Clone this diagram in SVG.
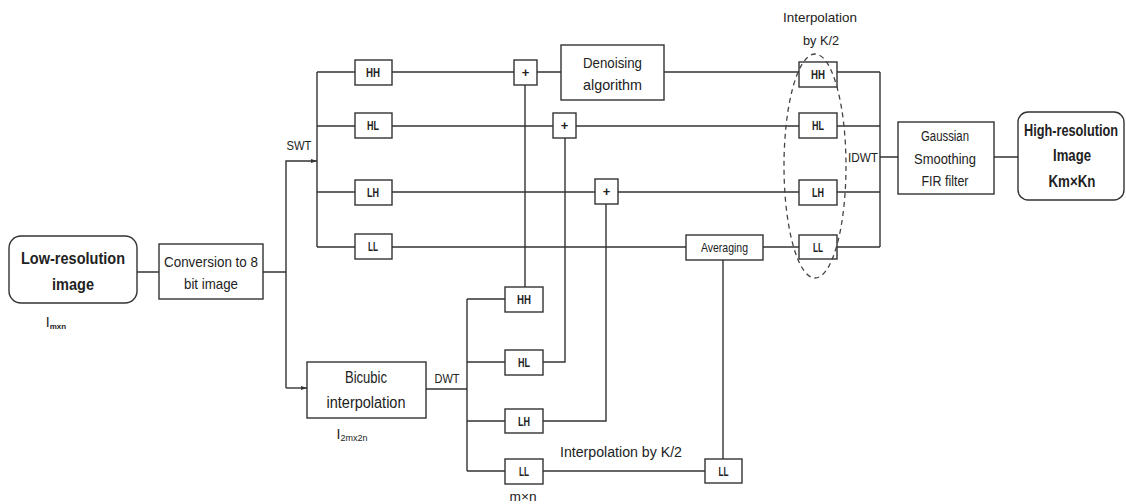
<svg xmlns="http://www.w3.org/2000/svg" width="1126" height="504" viewBox="0 0 1126 504">
<style>
.bx{fill:#fff;stroke:#333;stroke-width:1.4}
.ln{fill:none;stroke:#333;stroke-width:1.4}
text{font-family:"Liberation Sans",Arial,sans-serif;fill:#222;text-anchor:middle;dominant-baseline:central}
.s{font-size:13px;font-weight:bold}
.m{font-size:15px}
.b{font-size:17px;font-weight:bold}
.l{font-size:13px}
</style>
<defs>
<marker id="ah" markerWidth="6" markerHeight="6" refX="6" refY="3" orient="auto" markerUnits="userSpaceOnUse">
<path d="M0,1 L6,3 L0,5 z" fill="#333"/>
</marker>
</defs>
<g id="connectors">
<path class="ln" d="M137,272 H286"/>
<path class="ln" d="M286,388 V161 H317" marker-end="url(#ah)"/>
<path class="ln" d="M286,388 H307" marker-end="url(#ah)"/>
<path class="ln" d="M317,72 V247"/>
<path class="ln" d="M317,72 H355 M317,126 H355 M317,192 H355 M317,247 H355"/>
<path class="ln" d="M392,72 H514 M537,72 H561 M664,72 H799"/>
<path class="ln" d="M392,126 H553 M576,126 H799"/>
<path class="ln" d="M392,192 H595 M618,192 H799"/>
<path class="ln" d="M392,247 H686 M763,247 H799"/>
<path class="ln" d="M837,72 H880 M837,126 H880 M837,192 H880 M837,247 H880 M880,72 V247"/>
<path class="ln" d="M880,157 H898 M994,157 H1018"/>
<path class="ln" d="M426,389 H467 M467,299 V471 M467,299 H505 M467,362 H505 M467,421 H505 M467,471 H505"/>
<path class="ln" d="M525,287 V85"/>
<path class="ln" d="M543,362 H565 V138"/>
<path class="ln" d="M543,421 H606 V204"/>
<path class="ln" d="M543,471 H705"/>
<path class="ln" d="M723,459 V260"/>
</g>
<g id="low-res">
<rect class="bx" x="9" y="236" width="128" height="67" rx="12"/>
<text class="b" x="73" y="258" textLength="104" lengthAdjust="spacingAndGlyphs">Low-resolution</text>
<text class="b" x="73" y="284" textLength="42" lengthAdjust="spacingAndGlyphs">image</text>
<text x="56" y="322" font-size="14" text-anchor="start">I<tspan font-size="8" font-weight="bold" dy="4">mxn</tspan></text>
</g>
<g id="conversion">
<rect class="bx" x="159" y="244" width="104" height="55"/>
<text class="m" x="211" y="261" textLength="94" lengthAdjust="spacingAndGlyphs">Conversion to 8</text>
<text class="m" x="211" y="283" textLength="54" lengthAdjust="spacingAndGlyphs">bit image</text>
</g>
<g id="swt-label"><text class="l" x="299" y="145" textLength="25" lengthAdjust="spacingAndGlyphs">SWT</text></g>
<g id="s-hh"><rect class="bx" x="355" y="60" width="37" height="25"/><text class="s" x="373" y="72.5" textLength="14" lengthAdjust="spacingAndGlyphs">HH</text></g>
<g id="s-hl"><rect class="bx" x="355" y="113" width="37" height="25"/><text class="s" x="373" y="125.5" textLength="12" lengthAdjust="spacingAndGlyphs">HL</text></g>
<g id="s-lh"><rect class="bx" x="355" y="180" width="37" height="25"/><text class="s" x="373" y="192.5" textLength="12" lengthAdjust="spacingAndGlyphs">LH</text></g>
<g id="s-ll"><rect class="bx" x="355" y="234" width="37" height="25"/><text class="s" x="373" y="246.5" textLength="10" lengthAdjust="spacingAndGlyphs">LL</text></g>
<g id="plus1"><rect class="bx" x="514" y="60" width="23" height="25"/><text class="s" x="525.5" y="72" font-size="11">+</text></g>
<g id="plus2"><rect class="bx" x="553" y="113" width="23" height="25"/><text class="s" x="564.5" y="125" font-size="11">+</text></g>
<g id="plus3"><rect class="bx" x="595" y="179" width="23" height="25"/><text class="s" x="606.5" y="191" font-size="11">+</text></g>
<g id="denoising">
<rect class="bx" x="561" y="45" width="103" height="55"/>
<text class="m" x="612.5" y="62" textLength="59" lengthAdjust="spacingAndGlyphs">Denoising</text>
<text class="m" x="612.5" y="84" textLength="59" lengthAdjust="spacingAndGlyphs">algorithm</text>
</g>
<g id="averaging"><rect class="bx" x="686" y="235" width="77" height="25"/><text x="724.5" y="247.5" font-size="13" textLength="47" lengthAdjust="spacingAndGlyphs">Averaging</text></g>
<g id="interp-label">
<text x="820" y="17" font-size="13" textLength="74" lengthAdjust="spacingAndGlyphs">Interpolation</text>
<text x="821" y="40" font-size="13" textLength="36" lengthAdjust="spacingAndGlyphs">by K/2</text>
</g>
<g id="r-hh"><rect class="bx" x="799" y="62" width="38" height="25"/><text class="s" x="818" y="74.5" textLength="14" lengthAdjust="spacingAndGlyphs">HH</text></g>
<g id="r-hl"><rect class="bx" x="799" y="113" width="38" height="25"/><text class="s" x="818" y="125.5" textLength="12" lengthAdjust="spacingAndGlyphs">HL</text></g>
<g id="r-lh"><rect class="bx" x="799" y="180" width="38" height="25"/><text class="s" x="818" y="192.5" textLength="12" lengthAdjust="spacingAndGlyphs">LH</text></g>
<g id="r-ll"><rect class="bx" x="799" y="235" width="38" height="24"/><text class="s" x="818" y="247" textLength="10" lengthAdjust="spacingAndGlyphs">LL</text></g>
<g id="ellipse"><ellipse cx="815" cy="166" rx="31" ry="112" fill="none" stroke="#444" stroke-width="1.3" stroke-dasharray="5,4"/></g>
<g id="idwt-label"><text class="l" x="863" y="157" textLength="30" lengthAdjust="spacingAndGlyphs">IDWT</text></g>
<g id="gaussian">
<rect class="bx" x="898" y="122" width="96" height="72"/>
<text x="945" y="136" font-size="14" textLength="48" lengthAdjust="spacingAndGlyphs">Gaussian</text>
<text x="945" y="159" font-size="14" textLength="62" lengthAdjust="spacingAndGlyphs">Smoothing</text>
<text x="945" y="181" font-size="14" textLength="47" lengthAdjust="spacingAndGlyphs">FIR filter</text>
</g>
<g id="high-res">
<rect class="bx" x="1018" y="112" width="106" height="88" rx="10"/>
<text x="1071" y="130" font-size="16" font-weight="bold" textLength="94" lengthAdjust="spacingAndGlyphs">High-resolution</text>
<text x="1072" y="155" font-size="16" font-weight="bold" textLength="38" lengthAdjust="spacingAndGlyphs">Image</text>
<text x="1072" y="181" font-size="16" font-weight="bold" textLength="47" lengthAdjust="spacingAndGlyphs">Km×Kn</text>
</g>
<g id="bicubic">
<rect class="bx" x="307" y="362" width="119" height="56"/>
<text x="366" y="377" font-size="16" textLength="42" lengthAdjust="spacingAndGlyphs">Bicubic</text>
<text x="366" y="402" font-size="16" textLength="79" lengthAdjust="spacingAndGlyphs">interpolation</text>
<text x="352" y="434" font-size="14" text-anchor="start">I<tspan font-size="9" dy="4">2mx2n</tspan></text>
</g>
<g id="dwt-label"><text class="l" x="447" y="378" textLength="25" lengthAdjust="spacingAndGlyphs">DWT</text></g>
<g id="d-hh"><rect class="bx" x="505" y="287" width="38" height="25"/><text class="s" x="524" y="299.5" textLength="14" lengthAdjust="spacingAndGlyphs">HH</text></g>
<g id="d-hl"><rect class="bx" x="505" y="350" width="38" height="25"/><text class="s" x="524" y="362.5" textLength="12" lengthAdjust="spacingAndGlyphs">HL</text></g>
<g id="d-lh"><rect class="bx" x="505" y="409" width="38" height="24"/><text class="s" x="524" y="421" textLength="12" lengthAdjust="spacingAndGlyphs">LH</text></g>
<g id="d-ll"><rect class="bx" x="505" y="459" width="38" height="25"/><text class="s" x="524" y="471.5" textLength="10" lengthAdjust="spacingAndGlyphs">LL</text></g>
<g id="mxn-label"><text class="l" x="523" y="496" textLength="27" lengthAdjust="spacingAndGlyphs">m×n</text></g>
<g id="interp2-label"><text x="621" y="452" font-size="14" textLength="122" lengthAdjust="spacingAndGlyphs">Interpolation by K/2</text></g>
<g id="ll-interp"><rect class="bx" x="705" y="459" width="37" height="24"/><text class="s" x="723.5" y="471" textLength="10" lengthAdjust="spacingAndGlyphs">LL</text></g>
</svg>
